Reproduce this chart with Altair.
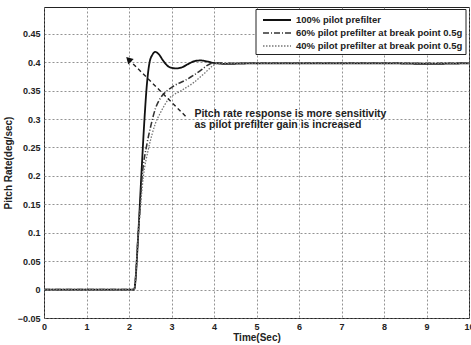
import altair as alt
import pandas as pd

# Series names
s100 = "100% pilot prefilter"
s60 = "60% pilot prefilter at break point 0.5g"
s40 = "40% pilot prefilter at break point 0.5g"

# Pitch rate step responses (time in s, pitch rate in deg/sec)
t_100 = [0, 2.12, 2.22, 2.29, 2.36, 2.42, 2.48, 2.55, 2.62, 2.70, 2.80, 2.90, 3.00,
         3.12, 3.25, 3.40, 3.55, 3.68, 3.85, 4.05, 4.3, 5, 6, 7, 8, 9, 10]
q_100 = [0, 0, 0.10, 0.20, 0.295, 0.36, 0.398, 0.413, 0.418, 0.414, 0.403, 0.394, 0.390,
         0.389, 0.391, 0.397, 0.402, 0.403, 0.401, 0.398, 0.397, 0.398, 0.398, 0.398, 0.398, 0.397, 0.398]

t_60 = [0, 2.12, 2.22, 2.31, 2.42, 2.52, 2.62, 2.75, 2.90, 3.05, 3.37, 3.68, 3.88, 4.03, 4.3, 5, 10]
q_60 = [0, 0, 0.10, 0.20, 0.255, 0.29, 0.318, 0.338, 0.350, 0.358, 0.370, 0.385, 0.396, 0.399,
        0.398, 0.398, 0.398]

t_40 = [0, 2.12, 2.22, 2.34, 2.45, 2.55, 2.62, 2.74, 2.93, 3.21, 3.52, 3.80, 3.96, 4.07, 4.3, 5, 10]
q_40 = [0, 0, 0.10, 0.20, 0.245, 0.275, 0.292, 0.311, 0.335, 0.349, 0.364, 0.382, 0.393, 0.398,
        0.398, 0.398, 0.398]

# Annotation
note_lines = ["Pitch rate response is more sensitivity", "as pilot prefilter gain is increased"]
note_x = [3.54, 3.54]
note_y = [0.308, 0.289]
arrow_from = (3.33, 0.305)
arrow_to = (1.99, 0.405)

x_ticks = [0, 1, 2, 3, 4, 5, 6, 7, 8, 9, 10]
y_ticks = [-0.05, 0.0, 0.05, 0.10, 0.15, 0.20, 0.25, 0.30, 0.35, 0.40, 0.45]

font = "Liberation Sans"

rows = []
for name, ts, qs in [(s100, t_100, q_100), (s60, t_60, q_60), (s40, t_40, q_40)]:
    for i, (t, q) in enumerate(zip(ts, qs)):
        rows.append({"series": name, "t": t, "q": q, "order": i})
df = pd.DataFrame(rows)

order = [s100, s60, s40]

x_scale = alt.Scale(domain=[0, 10], nice=False, zero=False)
y_scale = alt.Scale(domain=[-0.05, 0.497], nice=False, zero=False)

x_axis = alt.Axis(values=x_ticks, tickCount=len(x_ticks), title="Time(Sec)", grid=True,
                  gridDash=[2, 2], gridColor="#777", gridWidth=0.8, ticks=False, domain=False,
                  labelOverlap=False,
                  labelFont=font, labelFontSize=9, labelFontWeight="bold", labelColor="#222",
                  labelPadding=4, titleFont=font, titleFontSize=10, titleFontWeight="bold",
                  titleColor="#222", titlePadding=1, labelFlush=False)
y_axis = alt.Axis(values=y_ticks, tickCount=len(y_ticks), title="Pitch Rate(deg/sec)", grid=True,
                  gridDash=[2, 2], gridColor="#777", gridWidth=0.8, ticks=False, domain=False,
                  labelOverlap=False, format="~g",
                  labelFont=font, labelFontSize=9, labelFontWeight="bold", labelColor="#222",
                  labelPadding=4, titleFont=font, titleFontSize=10, titleFontWeight="bold",
                  titleColor="#222", titlePadding=4, labelFlush=False)

legend = alt.Legend(orient="none", legendX=211.5, legendY=2, title=None,
                    symbolType="M-0.5,0H3.5", symbolSize=196, symbolStrokeWidth=1.3,
                    strokeColor="#222", fillColor="white", padding=3, rowPadding=0,
                    labelFont=font, labelFontSize=9.5, labelFontWeight="bold",
                    labelColor="#222", labelOffset=21.5, labelLimit=0)

lines = alt.Chart(df).mark_line(interpolate="monotone").encode(
    x=alt.X("t:Q", scale=x_scale, axis=x_axis),
    y=alt.Y("q:Q", scale=y_scale, axis=y_axis),
    color=alt.Color("series:N", sort=order,
                    scale=alt.Scale(domain=order, range=["#111", "#333", "#777"]),
                    legend=legend),
    strokeDash=alt.StrokeDash("series:N", sort=order,
                              scale=alt.Scale(domain=order, range=[[1, 0], [6, 2, 1, 2], [1.5, 1.5]]),
                              legend=legend),
    strokeWidth=alt.StrokeWidth("series:N", sort=order,
                                scale=alt.Scale(domain=order, range=[1.8, 1.3, 1.1]),
                                legend=None),
    order="order:Q",
)

note_df = pd.DataFrame({"text": note_lines, "x": note_x, "y": note_y})
note = alt.Chart(note_df).mark_text(align="left", baseline="middle", font=font, fontSize=10.5,
                                    fontWeight="bold", color="#222").encode(
    x=alt.X("x:Q", scale=x_scale), y=alt.Y("y:Q", scale=y_scale), text="text:N")

arrow_df = pd.DataFrame({"x": [arrow_from[0]], "y": [arrow_from[1]],
                         "x2": [arrow_to[0]], "y2": [arrow_to[1]]})
arrow = alt.Chart(arrow_df).mark_rule(color="#222", strokeWidth=1.4, strokeDash=[4, 3]).encode(
    x=alt.X("x:Q", scale=x_scale), y=alt.Y("y:Q", scale=y_scale), x2="x2:Q", y2="y2:Q")

head_df = pd.DataFrame({"x": [arrow_to[0]], "y": [arrow_to[1]]})
head = alt.Chart(head_df).mark_point(shape="triangle-up", filled=True, color="#111",
                                     size=60, angle=315, opacity=1).encode(
    x=alt.X("x:Q", scale=x_scale), y=alt.Y("y:Q", scale=y_scale))

chart = alt.layer(lines, arrow, head, note).properties(
    width=425, height=311,
    autosize=alt.AutoSizeParams(type="none"),
    padding={"left": 44, "top": 7, "right": 2, "bottom": 27},
    background="white",
).configure_view(stroke="#222", strokeWidth=1)

chart.save("out.html", embed_options={"renderer": "svg", "actions": False})
